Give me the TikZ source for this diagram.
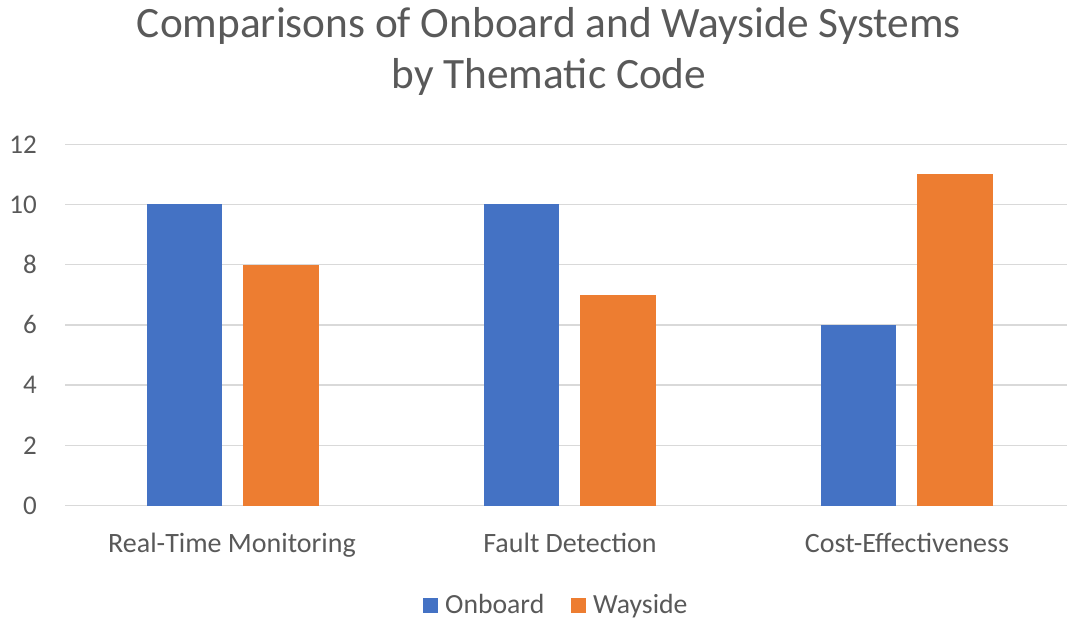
\documentclass[tikz,border=0pt]{standalone}
\usepackage{fontspec}
\setmainfont{Carlito}
\usetikzlibrary{positioning}
\definecolor{onboardblue}{HTML}{4472C4}
\definecolor{waysideorange}{HTML}{ED7D31}
\definecolor{labelgray}{HTML}{595959}
\definecolor{gridgray}{HTML}{D9D9D9}
\tikzset{
    gridline/.style={draw=gridgray, line width=1.5pt},
    ticklabel/.style={text=labelgray, font=\fontsize{27}{31}\selectfont,
                      anchor=east, inner sep=0pt},
    catlabel/.style={text=labelgray, font=\fontsize{28}{32}\selectfont,
                     anchor=base, inner sep=0pt},
    titletext/.style={text=labelgray, font=\fontsize{43.3}{50}\selectfont,
                      anchor=base, inner sep=0pt},
    legendkey/.style={minimum size=15pt, inner sep=0pt},
    legendtext/.style={text=labelgray, font=\fontsize{27.7}{31}\selectfont,
                       anchor=base west, inner sep=0pt},
}

\begin{document}
\begin{tikzpicture}[x=1pt, y=1pt]
    \useasboundingbox (0,0) rectangle (1067,618);

    % gridlines and value axis
    \foreach \v in {0,2,...,12}{
        \draw[gridline] (65,112.3+30.12*\v) -- (1067,112.3+30.12*\v);
        \node[ticklabel] (tick\v) at (37,112.3+30.12*\v) {\v};
    }

    % bars: centre / onboard / wayside
    \foreach \c/\on/\way in {233/10/8, 570/10/7, 907/6/11}{
        \fill[onboardblue] (\c-86,112.3) rectangle (\c-11,112.3+30.12*\on);
        \fill[waysideorange] (\c+10,112.3) rectangle (\c+86,112.3+30.12*\way);
    }

    \node[catlabel] (rtm) at (232,66) {Real-Time Monitoring};
    \node[catlabel] (fd)  at (570,66) {Fault Detection};
    \node[catlabel] (ce)  at (907,66) {Cost-Effectiveness};

    \node[titletext] (title1) at (549,580) {Comparisons of Onboard and Wayside Systems};
    \node[titletext] (title2) at (549,529) {by Thematic Code};

    % legend
    \node[legendkey, fill=onboardblue] (keyon) at (430,12.5) {};
    \node[legendtext] (texton) at (445,5) {Onboard};
    \node[legendkey, fill=waysideorange] (keyway) at (578.7,12.5) {};
    \node[legendtext] (textway) at (593,5) {Wayside};
\end{tikzpicture}
\end{document}
